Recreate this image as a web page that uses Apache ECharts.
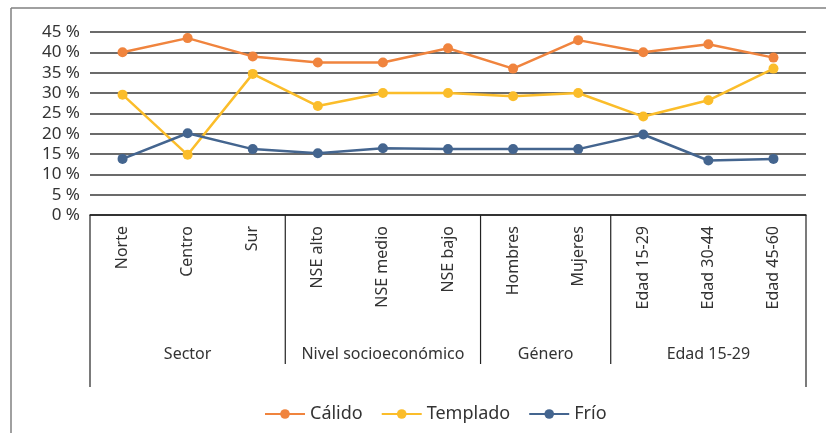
<!DOCTYPE html>
<html>
<head>
<meta charset="utf-8">
<script src="https://cdn.jsdelivr.net/npm/echarts@6/dist/echarts.min.js"></script>
<style>
  html, body { margin: 0; padding: 0; background: #fff; }
  #container { width: 826px; height: 433px; }
</style>
</head>
<body>
<div id="container"></div>
<script>
// categories and groups
var categories = ['Norte', 'Centro', 'Sur', 'NSE alto', 'NSE medio', 'NSE bajo',
  'Hombres', 'Mujeres', 'Edad 15-29', 'Edad 30-44', 'Edad 45-60'];
var groupNames = ['Sector', 'Nivel socioeconómico', 'Género', 'Edad 15-29'];
var groupSizes = [3, 3, 2, 3];

// series values (%)
var calido = [40, 43.5, 39, 37.5, 37.5, 41, 36, 43, 40, 42, 38.7];
var templado = [29.6, 14.8, 34.7, 26.8, 30, 30, 29.2, 30, 24.2, 28.2, 36];
var frio = [13.8, 20.1, 16.2, 15.2, 16.4, 16.2, 16.2, 16.2, 19.8, 13.4, 13.8];

var fontFam = '"Noto Sans", "Open Sans", sans-serif';
var textColor = '#333';

var myChart = echarts.init(document.getElementById('container'));

function line(name, data, color) {
  return {
    name: name,
    type: 'line',
    data: data,
    symbol: 'circle',
    symbolSize: 10,
    itemStyle: { color: color },
    lineStyle: { color: color, width: 2.5 }
  };
}

var option = {
  animation: false,
  grid: { left: 90, right: 20, top: 32, bottom: 218 },
  legend: {
    left: 259,
    top: 400,
    itemWidth: 40,
    itemHeight: 12,
    itemGap: 18,
    textStyle: { fontFamily: fontFam, fontSize: 18, color: textColor },
    data: ['Cálido', 'Templado', 'Frío']
  },
  xAxis: {
    type: 'category',
    data: categories,
    boundaryGap: true,
    axisLine: { lineStyle: { color: '#222', width: 1.5 } },
    axisTick: { show: false },
    axisLabel: {
      rotate: 90,
      interval: 0,
      margin: 11,
      fontFamily: fontFam,
      fontSize: 16,
      color: textColor
    }
  },
  yAxis: {
    type: 'value',
    min: 0,
    max: 45,
    interval: 5,
    axisLine: { show: false },
    axisTick: { show: false },
    axisLabel: {
      formatter: '{value} %',
      margin: 10,
      fontFamily: fontFam,
      fontSize: 17,
      color: textColor
    },
    splitLine: { lineStyle: { color: '#3a3a3a', width: 1.5 } }
  },
  series: [
    line('Cálido', calido, '#f0843e'),
    line('Templado', templado, '#fbbd2a'),
    line('Frío', frio, '#44658f')
  ]
};
myChart.setOption(option);

// group separators and group labels below the category axis
var y0 = myChart.convertToPixel({ yAxisIndex: 0 }, 0);
var step = myChart.convertToPixel({ xAxisIndex: 0 }, 1) - myChart.convertToPixel({ xAxisIndex: 0 }, 0);
var firstCenter = myChart.convertToPixel({ xAxisIndex: 0 }, 0);
function boundary(i) { return firstCenter + (i - 0.5) * step; }

var graphics = [
  // outer frame
  { type: 'line', shape: { x1: 11, y1: 8, x2: 11, y2: 433 }, style: { stroke: '#808080', lineWidth: 1.5 } },
  { type: 'line', shape: { x1: 11, y1: 8, x2: 826, y2: 8 }, style: { stroke: '#808080', lineWidth: 1.5 } }
];
var start = 0;
for (var g = 0; g < groupSizes.length; g++) {
  var end = start + groupSizes[g];
  var xs = boundary(start), xe = boundary(end);
  if (g === 0) {
    graphics.push({ type: 'line', shape: { x1: xs, y1: y0, x2: xs, y2: y0 + 172 }, style: { stroke: '#222', lineWidth: 1.2 } });
  }
  var isLast = g === groupSizes.length - 1;
  graphics.push({ type: 'line', shape: { x1: xe, y1: y0, x2: xe, y2: y0 + (isLast ? 172 : 149) }, style: { stroke: '#222', lineWidth: 1.2 } });
  graphics.push({
    type: 'text',
    x: (xs + xe) / 2,
    y: y0 + 139,
    style: {
      text: groupNames[g],
      fill: textColor,
      font: '16px ' + fontFam,
      textAlign: 'center',
      textVerticalAlign: 'middle'
    }
  });
  start = end;
}
myChart.setOption({ graphic: graphics });
</script>
</body>
</html>
